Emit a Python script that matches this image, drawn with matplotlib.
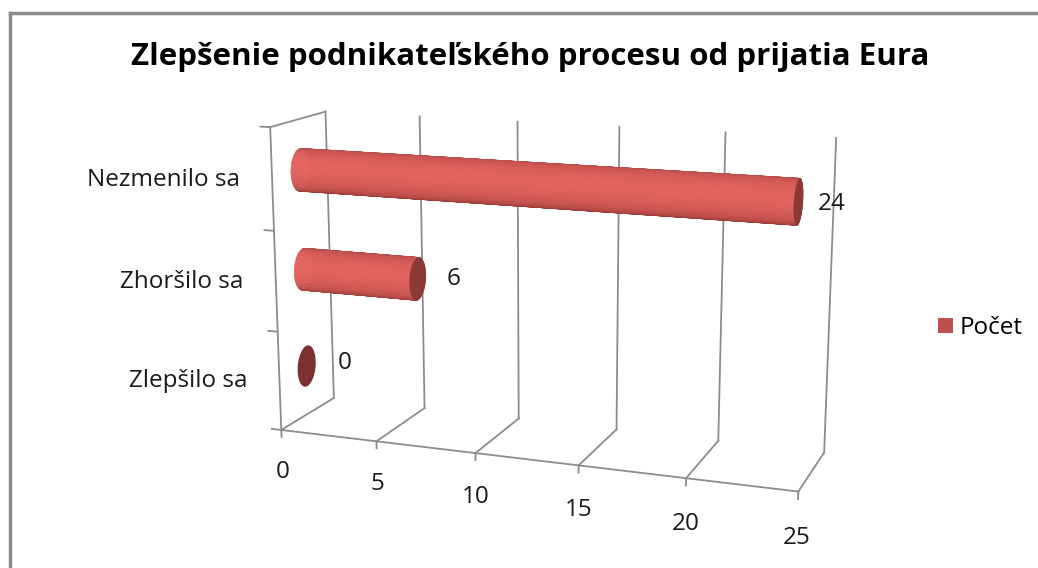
import numpy as np
import matplotlib
matplotlib.use('Agg')
import matplotlib.pyplot as plt
from matplotlib.colors import to_rgb
from matplotlib.lines import Line2D
from matplotlib.patches import Patch
from mpl_toolkits.mplot3d.art3d import Poly3DCollection

# data
categories = ['Zlepšilo sa', 'Zhoršilo sa', 'Nezmenilo sa']
values = [0, 6, 24]
x_ticks = [0, 5, 10, 15, 20, 25]
series_name = 'Počet'
title = 'Zlepšenie podnikateľského procesu od prijatia Eura'

plt.rcParams['font.family'] = ['Open Sans', 'DejaVu Sans']

grid_col = '#8c8c8c'
bar_col = '#c0504d'
body_dark = np.array(to_rgb('#9a3a37'))
body_light = np.array(to_rgb('#e2635f'))
cap_col = '#8b3936'
txt_col = '#1a1a1a'
fs = 17.5

fig = plt.figure(figsize=(10.38, 5.68), dpi=100)
ax = fig.add_axes([0.02, -0.024, 1.0, 1.0], projection='3d', computed_zorder=False)
ax.set_proj_type('persp', focal_length=0.58)
ax.view_init(elev=13.5, azim=-70)
ax.set_box_aspect((540, 120, 314), zoom=1.098)
ax.set_xlim(0, 25)
ax.set_ylim(0, 1)
ax.set_zlim(-0.5, 2.5)
ax.set_xticks([])
ax.set_yticks([])
ax.set_zticks([])
for axis in (ax.xaxis, ax.yaxis, ax.zaxis):
    axis.label.set_visible(False)
    axis.offsetText.set_visible(False)
ax.set_axis_off()

z0, z1 = -0.5, len(categories) - 0.5


def line3d(xs, ys, zs):
    ax.plot(xs, ys, zs, color=grid_col, lw=1.3, zorder=1, clip_on=False)


# walls / gridlines
for v in x_ticks:
    line3d([v, v], [0, 1], [z0, z0])
    line3d([v, v], [1, 1], [z0, z1])
    line3d([v, v], [0, 0], [z0, z0 - 0.07])
    ax.text(v, 0, z0 - 0.44, str(v), ha='center', va='center', fontsize=fs, color=txt_col)
line3d([0, 25], [0, 0], [z0, z0])
line3d([0, 0], [0, 0], [z0, z1])
line3d([0, 0], [0, 1], [z1, z1])
for k in range(len(categories) + 1):
    line3d([0, -0.5], [0, 0], [k - 0.5, k - 0.5])
for k, cat in enumerate(categories):
    ax.text(-1.7, 0, k - 0.03, cat, ha='right', va='center', fontsize=fs, color=txt_col)

# cylinders
ry, rz, yc = 0.17, 0.21, 0.5
theta = np.linspace(0, 2 * np.pi, 73)
for k, v in enumerate(values):
    if v > 0:
        polys, cols = [], []
        for i in range(len(theta) - 1):
            t0, t1 = theta[i], theta[i + 1]
            polys.append([(0, yc + ry * np.cos(t0), k + rz * np.sin(t0)),
                          (v, yc + ry * np.cos(t0), k + rz * np.sin(t0)),
                          (v, yc + ry * np.cos(t1), k + rz * np.sin(t1)),
                          (0, yc + ry * np.cos(t1), k + rz * np.sin(t1))])
            b = max(0.0, np.cos((t0 + t1) / 2 - (np.pi - 0.35)))
            cols.append(body_dark + (body_light - body_dark) * b ** 0.7)
        body = Poly3DCollection(polys, facecolors=cols, edgecolors=cols, linewidths=0.4)
        body.set_zorder(3)
        body.set_clip_on(False)
        ax.add_collection3d(body)
    cap = [(v, yc + ry * np.cos(t), k + rz * np.sin(t)) for t in theta]
    c = Poly3DCollection([cap], facecolors=cap_col if v > 0 else '#7c302f', edgecolors='none')
    c.set_zorder(4)
    c.set_clip_on(False)
    ax.add_collection3d(c)
    ax.text(v + 0.3, 1.0, k - 0.12, str(v), ha='left', va='center', fontsize=fs, color=txt_col)

fig.text(530 / 1038, 1 - 57 / 568, title, ha='center', va='center', fontsize=22.5, fontweight='bold')
fig.legend(handles=[Patch(facecolor=bar_col, label=series_name)], loc='center left',
           bbox_to_anchor=(938 / 1038, 1 - 328 / 568), frameon=False, fontsize=fs,
           handlelength=0.6, handleheight=0.6, handletextpad=0.3,
           borderpad=0, borderaxespad=0)

fig.add_artist(Line2D([10 / 1038, 10 / 1038], [0, 1 - 13 / 568], transform=fig.transFigure, color=grid_col, lw=2.5))
fig.add_artist(Line2D([10 / 1038, 1], [1 - 13 / 568, 1 - 13 / 568], transform=fig.transFigure, color=grid_col, lw=2.5))

fig.savefig('out.png', dpi=100)
